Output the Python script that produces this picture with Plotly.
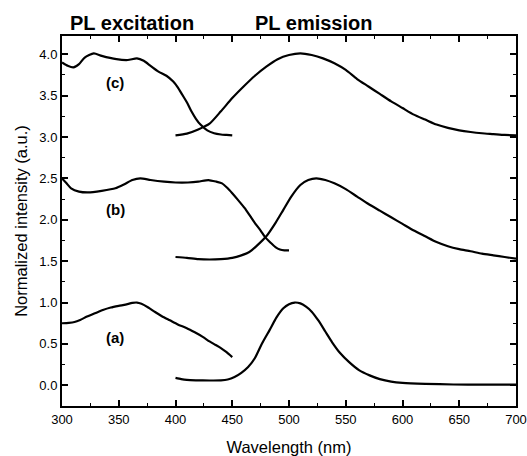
import plotly.graph_objects as go

# ---- data ----
exc_c_wl = [300, 305, 310, 315, 320, 328, 335, 348, 358, 366, 372, 378, 385, 392, 398, 402, 406, 410, 414, 418, 422, 428, 434, 440, 445, 450]
exc_c_int = [3.90, 3.86, 3.84, 3.88, 3.96, 4.01, 3.98, 3.94, 3.93, 3.95, 3.92, 3.86, 3.79, 3.74, 3.67, 3.60, 3.51, 3.42, 3.31, 3.22, 3.15, 3.08, 3.045, 3.03, 3.025, 3.02]

em_c_wl = [400, 410, 420, 430, 440, 450, 460, 470, 480, 490, 500, 510, 520, 530, 540, 550, 560, 570, 580, 590, 600, 610, 620, 630, 640, 650, 660, 670, 680, 690, 700]
em_c_int = [3.02, 3.04, 3.09, 3.16, 3.31, 3.47, 3.61, 3.74, 3.85, 3.94, 3.99, 4.01, 3.99, 3.95, 3.89, 3.81, 3.70, 3.61, 3.52, 3.43, 3.35, 3.27, 3.21, 3.15, 3.11, 3.08, 3.06, 3.045, 3.035, 3.025, 3.02]

exc_b_wl = [300, 304, 308, 315, 323, 335, 347, 355, 362, 369, 378, 390, 400, 411, 420, 429, 436, 441, 446, 450, 455, 461, 466, 470, 475, 479, 484, 488, 492, 496, 500]
exc_b_int = [2.50, 2.44, 2.38, 2.34, 2.33, 2.35, 2.38, 2.43, 2.48, 2.50, 2.48, 2.46, 2.45, 2.45, 2.46, 2.48, 2.46, 2.44, 2.38, 2.32, 2.24, 2.14, 2.04, 1.96, 1.87, 1.79, 1.72, 1.67, 1.64, 1.63, 1.63]

em_b_wl = [400, 410, 420, 430, 440, 450, 458, 465, 472, 480, 488, 495, 502, 510, 517, 524, 532, 540, 550, 560, 570, 580, 590, 600, 610, 620, 630, 640, 650, 660, 670, 680, 690, 700]
em_b_int = [1.55, 1.54, 1.525, 1.52, 1.525, 1.54, 1.57, 1.61, 1.69, 1.80, 1.96, 2.12, 2.28, 2.42, 2.48, 2.50, 2.48, 2.44, 2.37, 2.28, 2.19, 2.11, 2.03, 1.95, 1.87, 1.80, 1.73, 1.68, 1.645, 1.62, 1.59, 1.57, 1.55, 1.53]

exc_a_wl = [300, 306, 311, 316, 322, 329, 336, 343, 350, 356, 362, 366, 370, 376, 382, 388, 395, 402, 410, 417, 424, 430, 435, 440, 445, 450]
exc_a_int = [0.75, 0.755, 0.765, 0.79, 0.83, 0.87, 0.91, 0.94, 0.96, 0.975, 0.995, 1.00, 0.985, 0.94, 0.885, 0.835, 0.785, 0.735, 0.69, 0.64, 0.585, 0.53, 0.49, 0.45, 0.40, 0.34]

em_a_wl = [400, 405, 410, 418, 430, 440, 446, 452, 458, 464, 470, 476, 483, 489, 495, 500, 505, 510, 515, 520, 526, 532, 538, 545, 553, 562, 571, 580, 590, 600, 620, 645, 670, 700]
em_a_int = [0.09, 0.075, 0.065, 0.06, 0.058, 0.06, 0.07, 0.10, 0.15, 0.22, 0.33, 0.50, 0.67, 0.82, 0.93, 0.98, 1.00, 0.99, 0.95, 0.89, 0.78, 0.65, 0.52, 0.39, 0.28, 0.18, 0.12, 0.075, 0.045, 0.03, 0.018, 0.01, 0.008, 0.008]

curve_labels = ["(a)", "(b)", "(c)"]
label_wl = [347, 347, 347]
label_int = [0.58, 2.12, 3.66]

FONT = "Liberation Sans, Arial, sans-serif"

fig = go.Figure()
for wl, it in [(exc_c_wl, exc_c_int), (em_c_wl, em_c_int), (exc_b_wl, exc_b_int),
               (em_b_wl, em_b_int), (exc_a_wl, exc_a_int), (em_a_wl, em_a_int)]:
    fig.add_trace(go.Scatter(x=wl, y=it, mode="lines",
                             line=dict(color="black", width=2.2, shape="spline", smoothing=0.6),
                             showlegend=False, hoverinfo="skip"))

for t, x, y in zip(curve_labels, label_wl, label_int):
    fig.add_annotation(x=x, y=y, xref="x", yref="y", text="<b>%s</b>" % t, showarrow=False,
                       font=dict(family=FONT, size=15, color="black"))

fig.add_annotation(x=362, y=1.035, xref="x", yref="paper", yanchor="middle",
                   text="<b>PL excitation</b>",
                   showarrow=False, font=dict(family=FONT, size=20, color="black"))
fig.add_annotation(x=522, y=1.035, xref="x", yref="paper", yanchor="middle",
                   text="<b>PL emission</b>",
                   showarrow=False, font=dict(family=FONT, size=20, color="black"))

axis_common = dict(showline=True, linecolor="black", linewidth=2, mirror="ticks",
                   ticks="inside", ticklen=6, tickwidth=1.5, tickcolor="black",
                   showgrid=False, zeroline=False, automargin=False,
                   tickfont=dict(family=FONT, size=13, color="black"))

fig.update_xaxes(range=[300, 700], tickvals=[300, 350, 400, 450, 500, 550, 600, 650, 700],
                 minor=dict(ticks="inside", ticklen=3, tickwidth=1.2, dtick=25, tickcolor="black"),
                 title=dict(text="Wavelength (nm)", font=dict(family=FONT, size=16.5, color="black"), standoff=16),
                 **axis_common)
fig.update_yaxes(range=[-0.25, 4.22], tickvals=[0, 0.5, 1, 1.5, 2, 2.5, 3, 3.5, 4],
                 ticktext=["0.0", "0.5", "1.0", "1.5", "2.0", "2.5", "3.0", "3.5", "4.0"],
                 minor=dict(ticks="inside", ticklen=3, tickwidth=1.2, dtick=0.25, tickcolor="black"),
                 title=dict(text="Normalized intensity (a.u.)", font=dict(family=FONT, size=16.5, color="black"), standoff=8),
                 **axis_common)

fig.update_layout(width=527, height=456, margin=dict(l=62, r=11, t=36, b=50),
                  plot_bgcolor="white", paper_bgcolor="white")

fig.write_html("out.html")
